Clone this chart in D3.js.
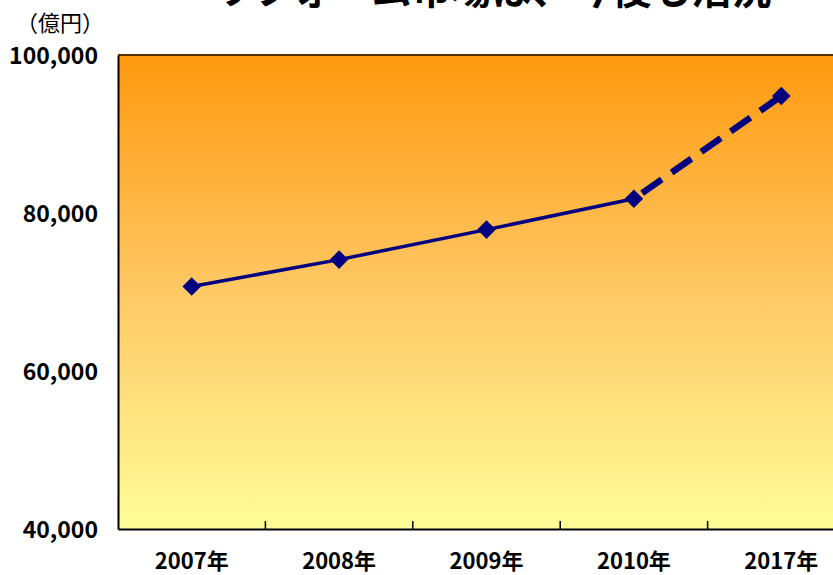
<html>
<head>
<meta charset="utf-8">
<script src="https://d3js.org/d3.v7.min.js"></script>
<style>
body { margin: 0; background: #fff; }
text { font-family: "Noto Sans CJK JP", "DejaVu Sans", sans-serif; }
</style>
</head>
<body>
<div id="chart"><svg width="833" height="575"></svg></div>
<script>
var categories = ["2007年", "2008年", "2009年", "2010年", "2017年"];
var actualValues = [70700, 74100, 77900, 81800];
var forecastValues = [81800, 94800];
var yTicks = [40000, 60000, 80000, 100000];
var titleText = "リフォーム市場は、今後も活況";
var unitText = "（億円）";

var svg = d3.select("#chart").select("svg");
var plotLeft = 118, plotRight = 855, plotTop = 55, plotBottom = 529;
var navy = "#000080";

var x = d3.scaleBand().domain(categories).range([plotLeft, plotRight]);
var y = d3.scaleLinear().domain([40000, 100000]).range([plotBottom, plotTop]);

// background gradient
var grad = svg.append("defs").append("linearGradient")
	.attr("id", "bg").attr("x1", 0).attr("y1", 0).attr("x2", 0).attr("y2", 1);
grad.append("stop").attr("offset", "0%").attr("stop-color", "#FF990F");
grad.append("stop").attr("offset", "50%").attr("stop-color", "#FEC865");
grad.append("stop").attr("offset", "100%").attr("stop-color", "#FFFD99");

svg.append("rect")
	.attr("x", plotLeft).attr("y", plotTop)
	.attr("width", plotRight - plotLeft).attr("height", plotBottom - plotTop)
	.attr("fill", "url(#bg)");

// top border
svg.append("line")
	.attr("x1", plotLeft).attr("x2", plotRight)
	.attr("y1", plotTop).attr("y2", plotTop)
	.attr("stroke", "#5a3000").attr("stroke-width", 2);

// y axis
var yAxis = svg.append("g")
	.attr("transform", "translate(" + plotLeft + ",0)")
	.call(d3.axisLeft(y).tickValues(yTicks).tickSize(0).tickPadding(20)
		.tickFormat(d3.format(",")));
yAxis.select(".domain").attr("stroke", "#000").attr("stroke-width", 2);
yAxis.selectAll("text")
	.attr("dy", "0.36em")
	.attr("font-size", 23).attr("font-weight", "bold").attr("fill", "#000")
	.attr("font-family", "Noto Sans CJK JP");

// x axis
var xAxis = svg.append("g")
	.attr("transform", "translate(0," + plotBottom + ")")
	.call(d3.axisBottom(x).tickSize(0).tickPadding(24));
xAxis.select(".domain").attr("stroke", "#000").attr("stroke-width", 2);
xAxis.selectAll("text")
	.attr("font-size", 22).attr("font-weight", "bold").attr("fill", "#000")
	.attr("font-family", "Noto Sans CJK JP");

// inner tick marks between categories
svg.append("g").selectAll("line")
	.data(categories.slice(1))
	.enter().append("line")
	.attr("x1", function(d) { return x(d); })
	.attr("x2", function(d) { return x(d); })
	.attr("y1", plotBottom).attr("y2", plotBottom - 8)
	.attr("stroke", "#000").attr("stroke-width", 1.5);

function cx(i) { return x(categories[i]) + x.bandwidth() / 2; }

// actual line
var line = d3.line()
	.x(function(d) { return cx(d.i); })
	.y(function(d) { return y(d.v); });

svg.append("path")
	.datum(actualValues.map(function(v, i) { return { i: i, v: v }; }))
	.attr("d", line)
	.attr("fill", "none").attr("stroke", navy).attr("stroke-width", 3.5);

// forecast dashed line
svg.append("path")
	.datum(forecastValues.map(function(v, i) { return { i: i + 3, v: v }; }))
	.attr("d", line)
	.attr("fill", "none").attr("stroke", navy).attr("stroke-width", 6.5)
	.attr("stroke-dasharray", "24,12").attr("stroke-dashoffset", -10);

// markers
var points = actualValues.map(function(v, i) { return { i: i, v: v }; })
	.concat([{ i: 4, v: forecastValues[1] }]);
svg.append("g").selectAll("path")
	.data(points)
	.enter().append("path")
	.attr("d", d3.symbol().type(d3.symbolDiamond2).size(220))
	.attr("transform", function(d) { return "translate(" + cx(d.i) + "," + y(d.v) + ")"; })
	.attr("fill", navy);

// title (cut off at top, as in the source picture)
svg.append("text")
	.attr("x", 492).attr("y", 4)
	.attr("text-anchor", "middle")
	.attr("font-size", 40).attr("font-weight", "bold")
	.attr("fill", "#000")
	.text(titleText);

// unit
svg.append("text")
	.attr("x", 16).attr("y", 31)
	.attr("font-size", 22).attr("fill", "#000")
	.text(unitText);
</script>
</body>
</html>
